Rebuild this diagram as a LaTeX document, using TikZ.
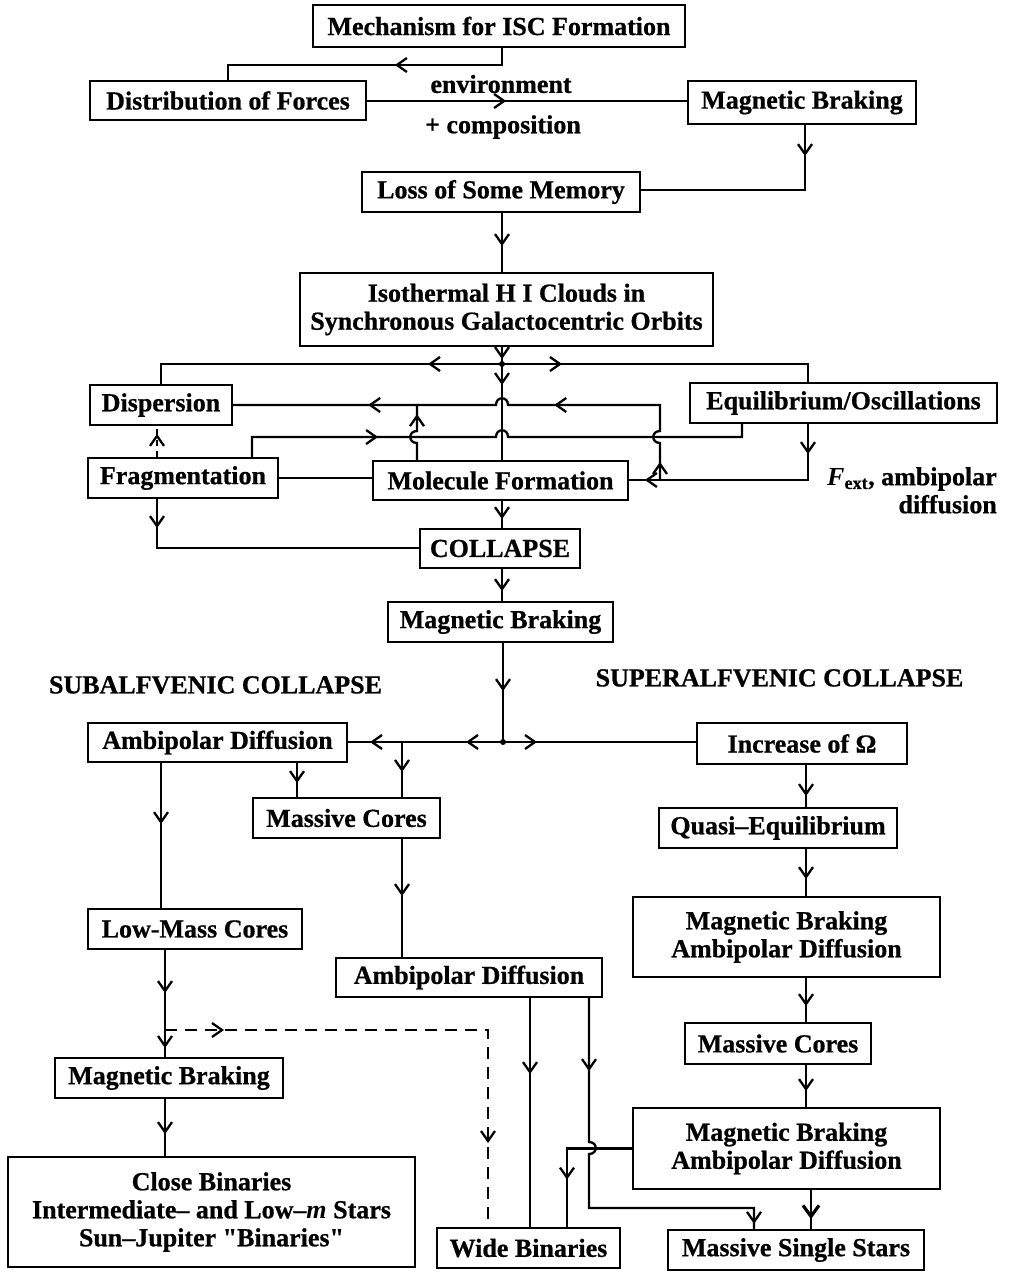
\documentclass[tikz,border=0pt]{standalone}
\usepackage{fontspec}
\setmainfont{Liberation Serif}[BoldFeatures={FakeBold=0.7}]
\newfontfamily\qfont{Liberation Serif}[FakeBold=0.7]
\usetikzlibrary{arrows.meta,decorations.markings,calc}
\newcommand\boxfont{\bfseries\fontsize{26}{28}\selectfont}
\newcommand\dq{{\qfont\symbol{34}}}
\tikzset{
  chev/.tip={Straight Barb[length=10pt,width=14pt,line width=2.3pt]},
  chevb/.tip={Straight Barb[length=11pt,width=16pt,line width=3.2pt]},
  box/.style 2 args={draw,line width=2.2pt,minimum width=#1pt,minimum height=#2pt,inner sep=0pt,align=center,font=\boxfont},
  lbl/.style={inner sep=0pt,align=center,font=\boxfont},
  wire/.style={line width=2.3pt},
  dashA/.style={dash pattern=on 12pt off 8pt},
  dashB/.style={dash pattern=on 6pt off 5pt},
  mk/.style={postaction={decorate,decoration={markings,mark=at position #1pt with {\arrow{chev}}}}},
  mkb/.style={postaction={decorate,decoration={markings,mark=at position #1pt with {\arrow{chevb}}}}}
}
\begin{document}
\begin{tikzpicture}[x=1pt,y=-1pt]
\fill[white] (0,0) rectangle (1009,1276);
\useasboundingbox (0,0) rectangle (1009,1276);

% boxes
\node[box={372}{42}] (mech) at (499,26) {Mechanism for ISC Formation};
\node[box={276}{39}] (dist) at (228,100.5) {Distribution of Forces};
\node[box={228}{43}] (magb1) at (802,102.5) {Magnetic Braking};
\node[box={278}{40}] (loss) at (501,192) {Loss of Some Memory};
\node[box={413}{73}] (iso) at (506.5,309.5) {Isothermal H I Clouds in\\Synchronous Galactocentric Orbits};
\node[box={142}{40}] (disp) at (161,405) {Dispersion};
\node[box={307}{40}] (equi) at (843.5,403) {Equilibrium/Oscillations};
\node[box={190}{40}] (frag) at (183,478) {Fragmentation};
\node[box={255}{39}] (mol) at (500.5,480.5) {Molecule Formation};
\node[box={160}{39}] (coll) at (500,548.5) {COLLAPSE};
\node[box={225}{40}] (magb2) at (500.5,622) {Magnetic Braking};
\node[box={259}{39}] (ambl) at (217.5,742.5) {Ambipolar Diffusion};
\node[box={210}{41}] (incr) at (802,743.5) {Increase of Ω};
\node[box={187}{40}] (massc) at (346.5,818) {Massive Cores};
\node[box={214}{40}] (lowm) at (195,929) {Low-Mass Cores};
\node[box={238}{40}] (quasi) at (778,828) {Quasi–Equilibrium};
\node[box={307}{80}] (mbad1) at (786.5,937) {Magnetic Braking\\Ambipolar Diffusion};
\node[box={186}{41}] (massr) at (778,1043.5) {Massive Cores};
\node[box={307}{81}] (mbad2) at (786.5,1148.5) {Magnetic Braking\\Ambipolar Diffusion};
\node[box={256}{40}] (mss) at (796,1250) {Massive Single Stars};
\node[box={266}{39}] (ambm) at (469,977.5) {Ambipolar Diffusion};
\node[box={183}{40}] (wide) at (528.5,1248) {Wide Binaries};
\node[box={228}{40}] (magb3) at (169,1078) {Magnetic Braking};
\node[box={407}{110}] (close) at (211.5,1212) {Close Binaries\\Intermediate– and Low–{\itshape m} Stars\\Sun–Jupiter \dq Binaries\dq};

% labels
\node[lbl] (envt) at (501,84) {environment};
\node[lbl] (comp) at (503,127) {+ composition};
\node[lbl] (sub) at (215.5,685) {SUBALFVENIC COLLAPSE};
\node[lbl] (sup) at (779.5,678) {SUPERALFVENIC COLLAPSE};
\node[lbl,align=right,anchor=north east] (fext) at (997,467) {{\itshape F}\textsubscript{ext}, ambipolar\\diffusion};

% coordinates
\coordinate (j1) at (502,65);
\coordinate (c3) at (805,190);
\coordinate (J) at (502,364);
\coordinate (c7) at (808,364);
\coordinate (m405) at (417,405);
\coordinate (r480) at (660,480);
\coordinate (c11) at (808,480);
\coordinate (f437) at (252,437);
\coordinate (e437) at (742,437);
\coordinate (c13) at (157,440);
\coordinate (c15) at (157,548);
\coordinate (J2) at (503,742);
\coordinate (b402) at (402,742);
\coordinate (x297) at (297,780);
\coordinate (x161) at (161,800);
\coordinate (rc) at (806,900);
\coordinate (x811) at (811,1210);
\coordinate (x530) at (530,1100);
\coordinate (x589) at (589,1208);
\coordinate (x754) at (754,1208);
\coordinate (x567) at (567,1148.5);
\coordinate (J3) at (165,1030);
\coordinate (d488) at (488,1030);
\coordinate (h101) at (366,101);

% connectors
\draw[wire,mk=124] (mech.south -| j1) -- (j1) -| (dist.north);
\draw[wire,mk=139] (h101 -| dist.east) -- (h101 -| magb1.west);
\draw[wire,mk=31] (magb1.south -| c3) -- (c3) -- (c3 -| loss.east);
\draw[wire,mk=33] (loss.south -| J) -- (iso.north -| J);
\draw[wire,mk=12] (iso.south -| J) -- (J);
\fill (J) circle[radius=3pt];
\draw[wire,mk=74] (J) -| (disp.north);
\draw[wire,mk=60] (J) -- (c7) -- (c7 |- equi.north);
\draw[wire,mk=21] (J) -- (J |- mol.north);
\draw[wire,mk=54,mk=112] (m405 |- mol.north) -- (417,443) .. controls (408,443) and (408,431) .. (417,431) -- (m405) -- (m405 -| disp.east);
\draw[wire,mk=18,mk=189] (r480) -- (660,443) .. controls (651,443) and (651,431) .. (660,431) -- (660,405) -- (508,405) .. controls (508,396) and (496,396) .. (496,405) -- (m405);
\draw[wire,mk=30,mk=219] (c11 |- equi.south) -- (c11) -- (c11 -| mol.east);
\draw[wire,mk=146] (f437 |- frag.north) -- (f437) -- (496,437) .. controls (496,428) and (508,428) .. (508,437) -- (e437) -- (e437 |- equi.south);
\draw[wire,dashB,mk=23] (frag.north -| c13) -- (disp.south -| c13);
\draw[wire] (frag.east) -- (frag.east -| mol.west);
\draw[wire,mk=29] (c15 |- frag.south) -- (c15) -- (c15 -| coll.west);
\draw[wire,mk=18] (mol.south -| J) -- (coll.north -| J);
\draw[wire,mk=22] (coll.south -| J) -- (magb2.north -| J);
\draw[wire,mk=48] (magb2.south -| J2) -- (J2);
\fill (J2) circle[radius=3pt];
\draw[wire,mk=37,mk=133] (J2) -- (J2 -| ambl.east);
\draw[wire,mk=30] (b402) -- (b402 |- massc.north);
\draw[wire,mk=34] (J2) -- (J2 -| incr.west);
\draw[wire,mk=20] (x297 |- ambl.south) -- (x297 |- massc.north);
\draw[wire,mk=61] (x161 |- ambl.south) -- (x161 |- lowm.north);
\draw[wire,mk=57] (b402 |- massc.south) -- (b402 |- ambm.north);
\draw[wire,mk=31] (rc |- incr.south) -- (rc |- quasi.north);
\draw[wire,mk=30] (rc |- quasi.south) -- (rc |- mbad1.north);
\draw[wire,mk=28] (rc |- mbad1.south) -- (rc |- massr.north);
\draw[wire,mk=26] (rc |- massr.south) -- (rc |- mbad2.north);
\draw[wire,mkb=29] (x811 |- mbad2.south) -- (x811 |- mss.north);
\draw[wire,mk=76] (x530 |- ambm.south) -- (x530 |- wide.north);
\draw[wire,mk=73,mk=399] (x589 |- ambm.south) -- (589,1142) .. controls (598,1142) and (598,1154) .. (589,1154) -- (x589) -- (x754) -- (x754 |- mss.north);
\draw[wire,mk=96] (mbad2.west) -- (x567) -- (x567 |- wide.north);
\draw[wire,mk=43] (J3 |- lowm.south) -- (J3);
\draw[wire,mk=18] (J3) -- (J3 |- magb3.north);
\draw[wire,dashA,mk=59,mk=436] (J3) -- (d488) -- (d488 |- wide.north);
\draw[wire,mk=35] (J3 |- magb3.south) -- (J3 |- close.north);
\end{tikzpicture}
\end{document}
